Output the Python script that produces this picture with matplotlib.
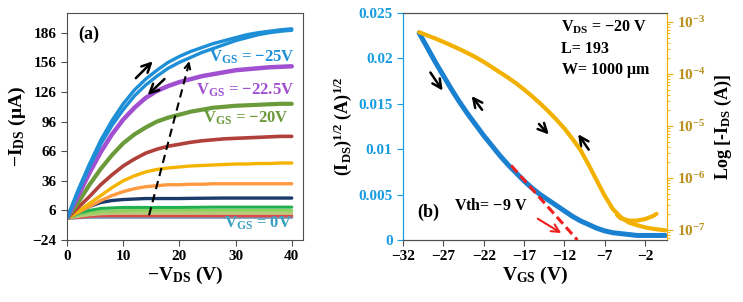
import math
import matplotlib
matplotlib.use('Agg')
import matplotlib.pyplot as plt
from matplotlib.ticker import FuncFormatter, LogLocator, NullFormatter

plt.rcParams['font.family'] = ['Liberation Serif', 'DejaVu Serif']
plt.rcParams['font.weight'] = 'bold'
plt.rcParams['axes.labelweight'] = 'bold'
plt.rcParams['mathtext.fontset'] = 'custom'
plt.rcParams['mathtext.rm'] = 'Liberation Serif:bold'
plt.rcParams['mathtext.it'] = 'Liberation Serif:bold'
plt.rcParams['mathtext.bf'] = 'Liberation Serif:bold'
plt.rcParams['mathtext.default'] = 'rm'

# ---- panel (a): output curves, -I_DS (uA) vs -V_DS (V)
vds = [0, 2, 4, 6, 8, 10, 12, 14, 16, 18, 20, 22, 24, 26, 28, 30, 32, 34, 36, 38, 40]
ids_25_fwd = [-2, 27, 53, 77, 97, 114, 128, 139, 148, 156, 162, 167, 171, 175, 178, 181, 184, 186, 187.5, 189, 190]
ids_25_rev = [-2, 25, 50, 73, 92, 108, 122, 133, 142, 150, 156, 161, 166, 170, 174, 178, 181, 184, 186, 187.5, 188.5]
ids_22p5 = [-2, 21, 44, 65, 83, 98, 110, 120, 127, 132, 136, 139, 142, 144, 146, 148, 149, 150, 151, 151.5, 152]
ids_20 = [-2, 14, 32, 48, 62, 74, 83, 90, 96, 100, 103, 106, 108, 110, 111, 112, 112.5, 113, 113.5, 114, 114]
ids_17p5 = [-2, 9, 20, 32, 42, 51, 58, 64, 68, 71, 73, 75, 76.5, 77.5, 78.5, 79, 79.5, 80, 80.5, 81, 81]
ids_15 = [-2, 5, 13, 21, 29, 36, 41, 45, 47.5, 49, 50, 51, 51.5, 52, 52.5, 53, 53, 53.5, 53.5, 54, 54]
ids_12p5 = [-2, 4, 10, 16, 21, 25, 28, 30, 31, 32, 32, 32.5, 32.5, 33, 33, 33, 33, 33, 33, 33, 33]
ids_10 = [-2, 5, 10, 14, 16, 17, 17.5, 18, 18, 18, 18, 18.2, 18.3, 18.4, 18.5, 18.5, 18.5, 18.5, 18.5, 18.5, 18.5]
ids_7p5 = [-2, 3, 6, 8, 8.5, 9, 9, 9, 9, 9, 9, 9.1, 9.2, 9.3, 9.3, 9.3, 9.3, 9.3, 9.3, 9.3, 9.3]
ids_5 = [-2, 1.5, 3.5, 5, 5.5, 5.8, 6, 6, 6, 6, 6, 6, 6, 6, 6, 6, 6, 6, 6, 6, 6]
ids_2p5 = [-2, 0, 1.5, 2.5, 3, 3, 3, 3, 3, 3, 3, 3, 3, 3, 3, 3, 3, 3, 3, 3, 3]
ids_0a = [-2, -1, 0, 0.5, 0.5, 0.5, 0.5, 0.5, 0.5, 0.5, 0.5, 0.5, 0.5, 0.5, 0.5, 0.5, 0.5, 0.5, 0.5, 0.5, 0.5]
ids_0b = [-2, -1.5, -1, -1, -1, -1, -1, -1, -1, -1, -1, -1, -1, -1, -1, -1, -1, -1, -1, -1, -1]

curves_a = [
    (ids_0b, '#6a9ab8', 2.2), (ids_0a, '#e04848', 2.2), (ids_2p5, '#b8c878', 2.2),
    (ids_5, '#90d060', 2.2), (ids_7p5, '#20b050', 2.2), (ids_10, '#1a3a6a', 2.4),
    (ids_12p5, '#ff9a40', 2.4), (ids_15, '#f5b400', 2.4), (ids_17p5, '#b0403a', 2.6),
    (ids_20, '#6a9a3a', 3.0), (ids_22p5, '#a050d0', 3.2),
    (ids_25_rev, '#1e8fd6', 2.4), (ids_25_fwd, '#1e8fd6', 2.4),
]

# knee trend (dashed arrow) in panel (a)
knee_x = [14.6, 21.9]
knee_y = [1, 159]

# ---- panel (b): transfer curves
vgs = [-30, -29, -28, -27, -26, -25, -24, -23, -22, -21, -20, -19, -18, -17, -16,
       -15, -14, -13, -12, -11, -10, -9, -8, -7, -6, -5, -4, -3, -2, -1, 0.5]
sqrt_ids = [0.0228, 0.0212, 0.0196, 0.0181, 0.0166, 0.0152, 0.0139, 0.0127, 0.0115,
            0.0104, 0.0093, 0.0083, 0.0074, 0.0065, 0.0057, 0.0050, 0.0044, 0.0038,
            0.0032, 0.0026, 0.0021, 0.0017, 0.0013, 0.0010, 0.0008, 0.0007, 0.0006,
            0.0005, 0.0005, 0.0005, 0.0005]
log_ids = [6.31e-4, 5.50e-4, 4.79e-4, 4.12e-4, 3.51e-4, 2.99e-4, 2.51e-4, 2.09e-4,
           1.70e-4, 1.35e-4, 1.07e-4, 8.5e-5, 6.6e-5, 5.0e-5, 3.7e-5, 2.69e-5, 1.91e-5,
           1.32e-5, 8.9e-6, 5.6e-6, 3.4e-6, 1.78e-6, 8.9e-7, 4.5e-7, 2.51e-7, 1.74e-7,
           1.38e-7, 1.23e-7, 1.12e-7, 1.05e-7, 9.8e-8]
vgs_rev = [-5.5, -5, -4, -3, -2, -1, -0.6]
log_ids_rev = [1.95e-7, 1.66e-7, 1.51e-7, 1.51e-7, 1.62e-7, 1.86e-7, 2.04e-7]
vth_fit_x = [-18.6, -10.4]
vth_fit_y = [0.0082, 0.0]

blue_b = '#1a80d0'
gold = '#f2b000'
gold_txt = '#b8901a'
axis_blue = '#1a9de0'
spine_gray = '#505050'

fig = plt.figure(figsize=(7.43, 3.02), dpi=100)
ax1 = fig.add_axes([67 / 743, 62 / 302, 236 / 743, 227 / 302])
ax2 = fig.add_axes([403 / 743, 62 / 302, 264 / 743, 227 / 302])
ax3 = ax2.twinx()

# ---------------- panel (a)
for ys, c, lw in curves_a:
    ax1.plot(vds, ys, color=c, lw=lw, solid_capstyle='round', solid_joinstyle='round')

ax1.plot(knee_x, knee_y, color='black', ls=(0, (4, 2.5)), lw=1.5)
ax1.annotate('', xy=(knee_x[1], knee_y[1] + 1), xytext=(knee_x[1] - 0.4, knee_y[1] - 8),
             arrowprops=dict(arrowstyle='->', lw=1.5, color='black'))
ax1.annotate('', xy=(15.6, 159), xytext=(11.9, 138),
             arrowprops=dict(arrowstyle='->', lw=1.8, color='black',
                             mutation_scale=16))
ax1.annotate('', xy=(14.0, 121), xytext=(17.7, 141),
             arrowprops=dict(arrowstyle='->', lw=1.8, color='black',
                             mutation_scale=16))

ax1.text(2.0, 184, '(a)', fontsize=13, va='center', ha='left')
ax1.text(40.5, 161, 'V$_{GS}$ = $-$25V', color='#1e8fd6', fontsize=12,
         ha='right', va='center')
ax1.text(40.5, 128, 'V$_{GS}$ = $-$22.5V', color='#a050d0', fontsize=12,
         ha='right', va='center')
ax1.text(39.5, 99, 'V$_{GS}$ = $-$20V', color='#6a9a3a', fontsize=12,
         ha='right', va='center')
ax1.text(40.0, -7, 'V$_{GS}$ = 0V', color='#3aa0c0', fontsize=12,
         ha='right', va='center')

ax1.set_xlim(0, 42)
ax1.set_ylim(-24, 206)
ax1.set_xticks([0, 10, 20, 30, 40])
ax1.set_yticks([-24, 6, 36, 66, 96, 126, 156, 186])
ax1.set_xlabel('$-$V$_{DS}$ (V)', fontsize=14, labelpad=1)
ax1.set_ylabel('$-$I$_{DS}$ ($\\mu$A)', fontsize=14, labelpad=3)
ax1.tick_params(labelsize=11, direction='out', length=4, color=spine_gray)
for s in ax1.spines.values():
    s.set_color(spine_gray)

# ---------------- panel (b)
ax3.plot(vgs, log_ids, color=gold, lw=3.0, solid_capstyle='round', solid_joinstyle='round')
ax3.plot(vgs_rev, log_ids_rev, color=gold, lw=3.0, solid_capstyle='round',
         solid_joinstyle='round')
ax2.plot(vgs, sqrt_ids, color=blue_b, lw=3.6, solid_capstyle='round',
         solid_joinstyle='round', zorder=3)
ax2.plot(vth_fit_x, vth_fit_y, color='#f02020', ls=(0, (3, 1.5)), lw=2.2, zorder=4)
ax2.annotate('', xy=(-12.1, 0.0006), xytext=(-15.6, 0.0025),
             arrowprops=dict(arrowstyle='->', lw=1.5, color='#f02020',
                             mutation_scale=14), zorder=5)

arrow_kw = dict(arrowstyle='->', lw=1.8, color='black', mutation_scale=16)
ax2.annotate('', xy=(-26.9, 0.0162), xytext=(-28.8, 0.0187), arrowprops=arrow_kw)
ax2.annotate('', xy=(-23.7, 0.0161), xytext=(-22.0, 0.0141), arrowprops=arrow_kw)
ax2.annotate('', xy=(-13.7, 0.0114), xytext=(-15.4, 0.0130), arrowprops=arrow_kw)
ax2.annotate('', xy=(-10.5, 0.0119), xytext=(-8.8, 0.0097), arrowprops=arrow_kw)

ax2.text(-12.4, 0.0234, 'V$_{DS}$ = $-$20 V', fontsize=11.5, va='center', ha='left')
ax2.text(-12.4, 0.0210, 'L= 193', fontsize=11.5, va='center', ha='left')
ax2.text(-12.4, 0.0187, 'W= 1000 $\\mu$m', fontsize=11.5, va='center', ha='left')
ax2.text(-28.9, 0.0030, '(b)', fontsize=13, va='center', ha='center')
ax2.text(-25.7, 0.0037, 'Vth= $-$9 V', fontsize=11.5, va='center', ha='left')

ax2.set_xlim(-32, 0.7)
ax2.set_ylim(0, 0.025)
ax2.set_xticks([-32, -27, -22, -17, -12, -7, -2])
ax2.set_yticks([0, 0.005, 0.01, 0.015, 0.02, 0.025])
ax2.set_yticklabels(['0', '0.005', '0.01', '0.015', '0.02', '0.025'])
ax2.set_xlabel('V$_{GS}$ (V)', fontsize=14, labelpad=1)
ax2.set_ylabel('(I$_{DS}$)$^{1/2}$ (A)$^{1/2}$', fontsize=13, labelpad=3)
ax2.tick_params(axis='x', labelsize=11, direction='out', length=4, color=spine_gray)
ax2.tick_params(axis='y', labelsize=11, direction='out', length=4,
                color=axis_blue, labelcolor=axis_blue)

ax3.set_yscale('log')
ax3.set_ylim(6.4e-8, 1.48e-3)
ax3.yaxis.set_major_locator(LogLocator(base=10, numticks=10))
ax3.yaxis.set_minor_locator(LogLocator(base=10, subs=[2, 3, 4, 5, 6, 7, 8, 9], numticks=20))
ax3.yaxis.set_major_formatter(FuncFormatter(lambda v, p: '10$^{%d}$' % round(math.log10(v))))
ax3.yaxis.set_minor_formatter(NullFormatter())
ax3.tick_params(axis='y', which='major', labelsize=11, direction='out', length=4,
                color=gold, labelcolor=gold_txt)
ax3.tick_params(axis='y', which='minor', direction='out', length=2.5, color=gold)
ax3.set_ylabel('Log [-I$_{DS}$ (A)]', fontsize=13, labelpad=5)

for a in (ax2, ax3):
    a.spines['top'].set_color(spine_gray)
    a.spines['bottom'].set_color(spine_gray)
    a.spines['left'].set_color(axis_blue)
    a.spines['right'].set_color(gold)

fig.savefig('out.png', dpi=100)
